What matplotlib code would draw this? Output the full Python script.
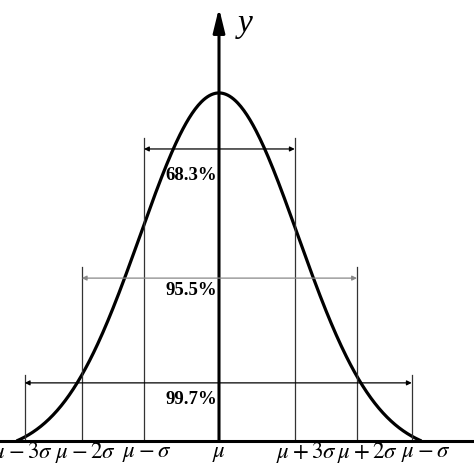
import numpy as np
import matplotlib.pyplot as plt

plt.rcParams['mathtext.fontset'] = 'stix'

# bell curve (x in sigma units, baseline 0, peak 1)
mu = 0.0
curve_sigma = 1.05
curve_end = 2.7

# vertical guide lines
line_x = [-2.59, -1.83, -1.0, 1.01, 1.84, 2.57]
line_top = [0.19, 0.50, 0.871, 0.871, 0.50, 0.19]
tick_labels = [r'$\mu-3\sigma$', r'$\mu-2\sigma$', r'$\mu-\sigma$', r'$\mu$',
               r'$\mu+3\sigma$', r'$\mu+2\sigma$', r'$\mu-\sigma$']
tick_x = [-2.62, -1.78, -0.96, 0.0, 1.17, 1.98, 2.75]

# interval brackets
band_left = [-1.0, -1.83, -2.59]
band_right = [1.01, 1.84, 2.57]
band_y = [0.839, 0.468, 0.167]
band_text = ['68.3%', '95.5%', '99.7%']
band_text_y = [0.764, 0.431, 0.118]
band_color = ['black', '#888888', 'black']

fig = plt.figure(figsize=(4.74, 4.74), dpi=100)
ax = fig.add_axes([0, 0, 1, 1])
ax.set_xlim(-2.92, 3.4)
ax.set_ylim(-0.0948, 1.267)
ax.axis('off')

# curve
x = np.linspace(-curve_end, curve_end, 400)
e = np.exp(-curve_end**2 / (2 * curve_sigma**2))
y = (np.exp(-(x - mu)**2 / (2 * curve_sigma**2)) - e) / (1 - e)
ax.plot(x, y, color='black', lw=2.3, solid_capstyle='butt')

# guide lines
for lx, lt in zip(line_x, line_top):
    ax.plot([lx, lx], [0, lt], color='#333333', lw=0.9)

# baseline and y axis
ax.axhline(0, color='black', lw=2.2)
ax.annotate('', xy=(mu, 1.244), xytext=(mu, 0),
            arrowprops=dict(arrowstyle='-|>,head_width=0.22,head_length=0.9',
                            color='black', lw=2.2,
                            mutation_scale=16, shrinkA=0, shrinkB=0))
ax.text(0.347, 1.198, 'y', fontsize=24, family='Liberation Serif',
        style='italic', ha='center', va='center')

# brackets with percentages
for l, r, by, t, ty, c in zip(band_left, band_right, band_y, band_text, band_text_y, band_color):
    ax.annotate('', xy=(l, by), xytext=(r, by),
                arrowprops=dict(arrowstyle='<|-|>', color=c, lw=0.9,
                                mutation_scale=7, shrinkA=0, shrinkB=0))
    ax.text(-0.025, ty, t, fontsize=13.5, family='Liberation Serif', weight='bold',
            ha='right', va='center')

# tick labels
for tx, tl in zip(tick_x, tick_labels):
    ax.text(tx, -0.034, tl, fontsize=16.5, ha='center', va='center')

fig.savefig('out.png', dpi=100)
